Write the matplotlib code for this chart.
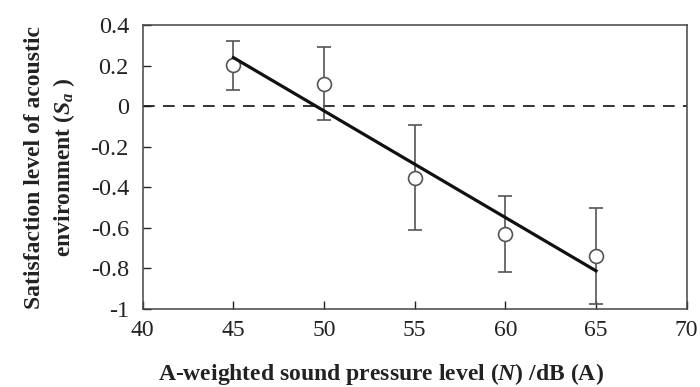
import matplotlib
matplotlib.use("Agg")
import matplotlib.pyplot as plt
import numpy as np

# data
spl      = np.array([45, 50, 55, 60, 65])
sa_mean  = np.array([0.205, 0.112, -0.352, -0.628, -0.738])
err_top  = np.array([0.32, 0.29, -0.094, -0.444, -0.504])
err_bot  = np.array([0.079, -0.066, -0.611, -0.82, -0.977])
fit_x    = np.array([45, 65])
fit_y    = np.array([0.24, -0.812])

plt.rcParams['font.family'] = ['Liberation Serif', 'DejaVu Serif']
plt.rcParams['mathtext.fontset'] = 'custom'
plt.rcParams['mathtext.rm'] = 'Liberation Serif:bold'
plt.rcParams['mathtext.it'] = 'Liberation Serif:italic:bold'

fig = plt.figure(figsize=(7.0, 3.87), dpi=100)
ax = fig.add_axes([0.204, 0.2016, 0.777, 0.7334])

yerr = np.vstack([sa_mean - err_bot, err_top - sa_mean])
ax.errorbar(spl, sa_mean, yerr=yerr, fmt='o', mfc='white', mec='#555555',
            mew=1.2, ms=10, ecolor='#555555', elinewidth=1.2, capsize=5,
            capthick=1.2, zorder=3)
ax.plot(fit_x, fit_y, color='#111111', lw=2.3, zorder=4)
ax.axhline(0, color='#111111', lw=1.2, ls=(0, (7, 5)), zorder=2)

ax.set_xlim(40, 70)
ax.set_ylim(-1, 0.4)
ax.set_xticks([40, 45, 50, 55, 60, 65, 70])
ax.set_yticks([-1, -0.8, -0.6, -0.4, -0.2, 0, 0.2, 0.4])
ax.set_yticklabels(['-1', '-0.8', '-0.6', '-0.4', '-0.2', '0', '0.2', '0.4'])
ax.tick_params(direction='in', length=6, width=1, colors='#222222')
ax.tick_params(axis='y', labelsize=17.5, pad=10)
ax.tick_params(axis='x', labelsize=17, pad=8)
for s in ax.spines.values():
    s.set_color('#444444')
    s.set_linewidth(1.1)

ax.set_xlabel("A-weighted sound pressure level ($N$) /dB (A)", fontsize=17,
              fontweight='bold', color='#222222')
ax.xaxis.set_label_coords(0.4375, -0.185)
ax.set_ylabel("Satisfaction level of acoustic\nenvironment ($S_{a}$ )",
              fontsize=17, fontweight='bold', labelpad=10, color='#222222',
              linespacing=1.3)

fig.savefig("out.png", dpi=100)
plt.close(fig)
